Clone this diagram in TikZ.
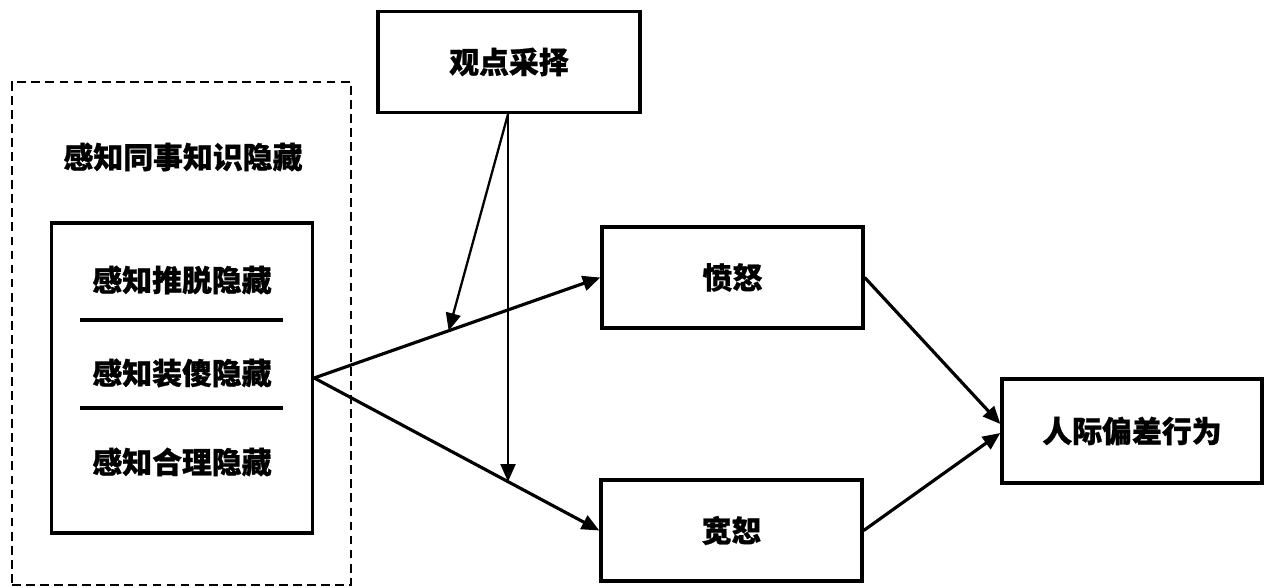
\documentclass[tikz,border=0pt]{standalone}
\usepackage{fontspec}
\newfontfamily\cjk[BoldFeatures={FakeBold=0.8}]{Noto Sans CJK SC}
\usetikzlibrary{calc,arrows.meta}
\tikzset{
  box/.style={draw, line width=1.9pt, minimum width=5.22cm, minimum height=2.02cm, inner sep=0pt},
  label/.style={font=\cjk\bfseries\fontsize{17pt}{20pt}\selectfont},
  link/.style={line width=1.8pt, -{Triangle[length=10pt,width=8.5pt]}},
  thinlink/.style={line width=1.3pt, -{Triangle[length=10pt,width=8.5pt]}}
}

\begin{document}
\begin{tikzpicture}
	%%%%% START %%%%%
	\useasboundingbox (0, 0) rectangle (25.44, 11.76);
	
	\node[draw, dashed, line width=1.2pt, dash pattern=on 5pt off 3pt, minimum width=6.78cm, minimum height=10.06cm] (outer) at (3.63, 5.09) {};
	\node[label] (title) at (3.66, 8.62) {感知同事知识隐藏};
	
	\node[box, minimum height=6.2cm] (inner) at (3.64, 4.2) {};
	\node[label] (shirk) at (3.64, 6.16) {感知推脱隐藏};
	\node[label] (dumb) at (3.64, 4.30) {感知装傻隐藏};
	\node[label] (reason) at (3.64, 2.52) {感知合理隐藏};
	\draw[line width=2.2pt] (1.6, 5.36) -- (5.66, 5.36);
	\draw[line width=2.2pt] (1.6, 3.6) -- (5.66, 3.6);
	
	\node[box, label, minimum width=5.24cm] (persp) at (10.18, 10.52) {观点采择};
	\node[box, label] (anger) at (14.65, 6.21) {愤怒};
	\node[box, label] (forgive) at (14.63, 1.15) {宽恕};
	\node[box, label, minimum width=5.2cm, minimum height=2.08cm] (deviance) at (22.64, 3.14) {人际偏差行为};
	
	\draw[link] (inner.east) -- (anger.west);
	\draw[link] (inner.east) -- (forgive.west);
	
	\coordinate (up) at ($(inner.east)!0.47!(anger.west)$);
	\coordinate (down) at ($(inner.east)!0.68!(forgive.west)$);
	\draw[thinlink] ([xshift=-0.02cm]persp.south) -- (up);
	\draw[thinlink] ([xshift=-0.02cm]persp.south) -- ([xshift=-0.02cm]persp.south |- down);
	
	\draw[link] (anger.east) -- ([yshift=0.14cm]deviance.west);
	\draw[link] (forgive.east) -- ([yshift=-0.04cm]deviance.west);
	
	%%%%% END %%%%%
\end{tikzpicture}
\end{document}
